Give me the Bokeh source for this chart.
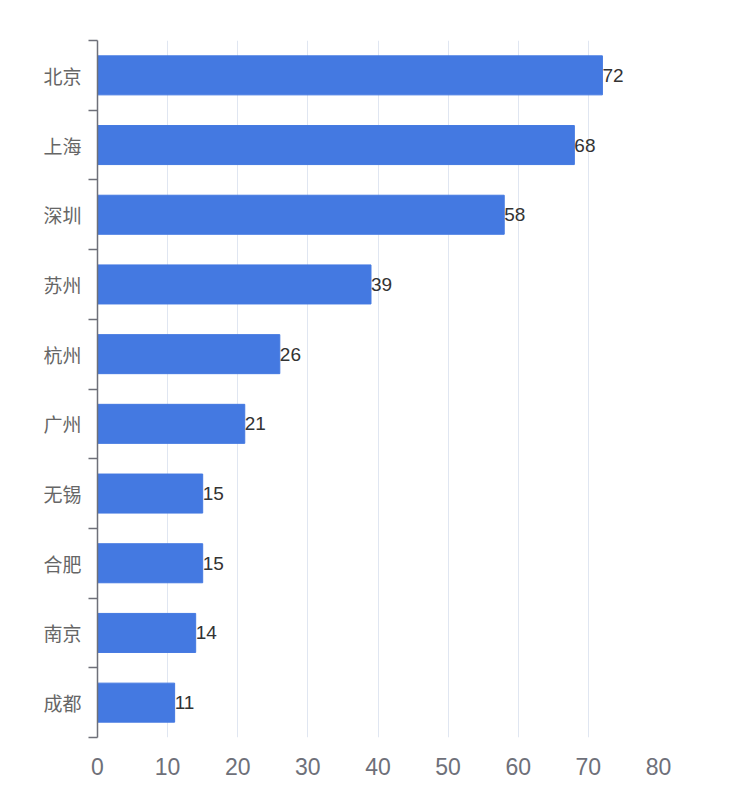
from bokeh.plotting import figure
from bokeh.models import Range1d, FixedTicker
from bokeh.core.properties import value
from bokeh.embed import file_html
from bokeh.resources import INLINE

cities = ["北京", "上海", "深圳", "苏州", "杭州", "广州", "无锡", "合肥", "南京", "成都"]
counts = [72, 68, 58, 39, 26, 21, 15, 15, 14, 11]
x_ticks = [0, 10, 20, 30, 40, 50, 60, 70, 80]

n = len(cities)
ypos = [n - 1 - i for i in range(n)]  # first city at top
bounds = [i - 0.5 for i in range(n + 1)]

p = figure(width=740, height=790, output_backend="svg", toolbar_location=None,
           x_range=Range1d(0, 80), y_range=Range1d(-0.5, n - 0.5),
           min_border_left=97, min_border_top=40, min_border_right=82, min_border_bottom=53)
p.outline_line_color = None

p.hbar(y=ypos, right=counts, left=0, height=0.56, color="#4479e1")
p.text(x=counts, y=ypos, text=[str(c) for c in counts], text_align="left",
       text_baseline="middle", text_font_size="19px", text_color="#333333",
       text_font=value("Liberation Sans"))

# x axis
p.xaxis.ticker = FixedTicker(ticks=x_ticks)
p.xaxis.axis_line_color = None
p.xaxis.major_tick_line_color = None
p.xaxis.minor_tick_line_color = None
p.xaxis.major_label_text_font_size = "23px"
p.xaxis.major_label_text_color = "#6e7079"
p.xaxis.major_label_text_font = "Liberation Sans"
p.xaxis.major_label_standoff = 14
p.xgrid.ticker = FixedTicker(ticks=x_ticks)
p.xgrid.grid_line_color = "#e0e6f1"
p.xgrid.grid_line_width = 1

# y axis
p.ygrid.grid_line_color = None
p.yaxis.ticker = FixedTicker(ticks=ypos, minor_ticks=bounds)
p.yaxis.major_label_overrides = {y: c for y, c in zip(ypos, cities)}
p.yaxis.major_tick_line_color = None
p.yaxis.major_tick_out = 0
p.yaxis.major_tick_in = 0
p.yaxis.minor_tick_out = 9
p.yaxis.minor_tick_in = 0
p.yaxis.minor_tick_line_color = "#6e7079"
p.yaxis.minor_tick_line_width = 1.5
p.yaxis.axis_line_color = "#6e7079"
p.yaxis.axis_line_width = 1.5
p.yaxis.major_label_text_font_size = "19px"
p.yaxis.major_label_text_color = "#666666"
p.yaxis.major_label_text_font = "Noto Sans CJK SC"
p.yaxis.major_label_standoff = 7

open("out.html", "w").write(file_html(p, INLINE))
